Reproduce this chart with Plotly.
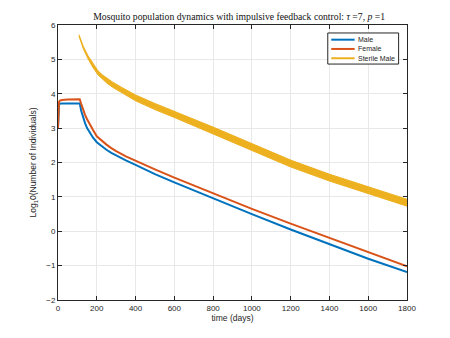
import plotly.graph_objects as go

# Male / Female (log10 counts)
t_mf = [0, 2, 5, 10, 20, 50, 112, 120, 130, 140, 150, 165, 180, 200, 225, 250, 275, 300, 350, 400,
        500, 600, 800, 1000, 1200, 1400, 1600, 1800]
male = [3.0, 3.55, 3.68, 3.71, 3.72, 3.72, 3.72, 3.50, 3.30, 3.14, 3.0, 2.86, 2.73, 2.59, 2.47,
        2.37, 2.28, 2.20, 2.06, 1.93, 1.66, 1.42, 0.95, 0.50, 0.05, -0.38, -0.80, -1.19]
female = [3.0, 3.6, 3.76, 3.80, 3.82, 3.83, 3.84, 3.70, 3.52, 3.38, 3.26, 3.09, 2.95, 2.76, 2.63,
          2.52, 2.42, 2.33, 2.18, 2.05, 1.80, 1.56, 1.10, 0.65, 0.22, -0.20, -0.61, -1.02]

# Sterile male: centre of oscillation band and its half-width
t_s = [108, 130, 155, 180, 206, 230, 250, 280, 327, 400, 499, 600, 800, 1000, 1092, 1200, 1400,
       1600, 1800]
sterile_mid = [5.70, 5.35, 5.06, 4.82, 4.61, 4.48, 4.39, 4.27, 4.11, 3.88, 3.63, 3.40, 2.93, 2.45,
               2.22, 1.97, 1.56, 1.20, 0.83]
sterile_half = [0.02, 0.035, 0.045, 0.055, 0.06, 0.065, 0.07, 0.075, 0.08, 0.085, 0.09, 0.09,
                0.1, 0.1, 0.1, 0.1, 0.1, 0.1, 0.1]

series_names = ["Male", "Female", "Sterile Male"]
x_ticks = [0, 200, 400, 600, 800, 1000, 1200, 1400, 1600, 1800]
y_ticks = [-2, -1, 0, 1, 2, 3, 4, 5, 6]

C_M, C_F, C_S = "#0072BD", "#D95319", "#EDB120"
colors = [C_M, C_F, C_S]

upper = [m + h for m, h in zip(sterile_mid, sterile_half)]
lower = [m - h for m, h in zip(sterile_mid, sterile_half)]

fig = go.Figure()
fig.add_trace(go.Scatter(x=t_mf, y=male, mode="lines", name=series_names[0],
                         line=dict(color=C_M, width=2)))
fig.add_trace(go.Scatter(x=t_mf, y=female, mode="lines", name=series_names[1],
                         line=dict(color=C_F, width=2)))
fig.add_trace(go.Scatter(x=t_s, y=lower, mode="lines", hoverinfo="skip",
                         line=dict(color=C_S, width=1)))
fig.add_trace(go.Scatter(x=t_s, y=upper, mode="lines", name=series_names[2],
                         fill="tonexty", fillcolor=C_S, line=dict(color=C_S, width=1)))

axis_common = dict(showline=True, linecolor="#262626", linewidth=1, mirror="ticks",
                   ticks="inside", ticklen=4, tickcolor="#262626", showgrid=True,
                   gridcolor="#e8e8e8", gridwidth=1, zeroline=False,
                   tickfont=dict(family="Liberation Sans, Arial", size=8, color="#262626"))

# manual MATLAB-style legend (paper coordinates)
shapes = [dict(type="rect", xref="paper", yref="paper", x0=0.773, x1=0.976, y0=0.858, y1=0.971,
               fillcolor="white", line=dict(color="#262626", width=1), layer="above")]
annotations = []
row_y = [0.9466, 0.9129, 0.8791]
for name, col, yy in zip(series_names, colors, row_y):
    shapes.append(dict(type="line", xref="paper", yref="paper", x0=0.783, x1=0.850, y0=yy, y1=yy,
                       line=dict(color=col, width=2), layer="above"))
    annotations.append(dict(text=name, xref="paper", yref="paper", x=0.855, y=yy,
                            xanchor="left", yanchor="middle", showarrow=False,
                            font=dict(family="Liberation Sans, Arial", size=7, color="#262626")))

fig.update_layout(
    width=442, height=330,
    margin=dict(l=50, r=43, t=17, b=37.5, autoexpand=False),
    paper_bgcolor="white", plot_bgcolor="white",
    showlegend=False,
    shapes=shapes, annotations=annotations,
    title=dict(text="Mosquito population dynamics with impulsive feedback control: <i>τ</i> =7, <i>p</i> =1",
               x=0.523, xanchor="center", y=0.985, yanchor="top",
               font=dict(family="Liberation Serif, DejaVu Serif", size=9.7, color="#111111")),
    xaxis=dict(range=[0, 1800], tickvals=x_ticks, **axis_common,
               title=dict(text="time (days)", standoff=3,
                          font=dict(family="Liberation Sans, Arial", size=8.5, color="#262626"))),
    yaxis=dict(range=[-2, 6], tickvals=y_ticks, **axis_common,
               title=dict(text="Log<sub>1</sub>0(Number of Individuals)", standoff=8,
                          font=dict(family="Liberation Sans, Arial", size=8.5, color="#262626"))),
)

fig.write_html("out.html")
